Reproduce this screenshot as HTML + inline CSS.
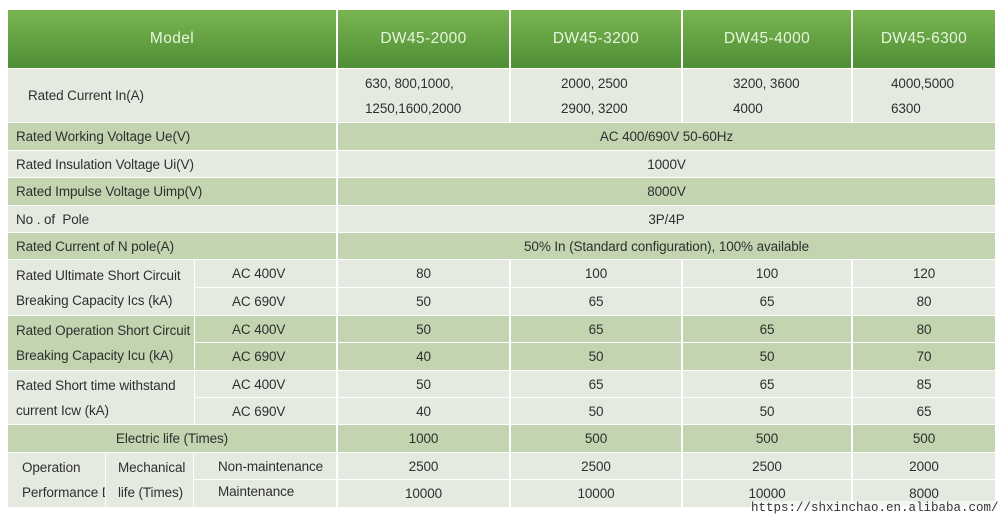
<!DOCTYPE html>
<html><head><meta charset="utf-8"><style>
body{margin:0;width:1000px;height:518px;background:#fff;overflow:hidden;font-family:"Liberation Sans","DejaVu Sans",sans-serif;}
.c{position:absolute;box-sizing:border-box;font-size:13.5px;color:#2f2f2f;display:flex;align-items:center;white-space:nowrap;letter-spacing:-0.1px}
.L{background:#e5eae1}.G{background:#c2d5b0}
.H{background:linear-gradient(#79b552,#4f8f35);color:#e8f5dc;font-size:15.5px;justify-content:center;letter-spacing:0.4px}
.ctr{justify-content:center}
.lt{padding-left:8px}
.two{flex-direction:column;align-items:flex-start;justify-content:center;line-height:25px}
</style></head><body>
<div class="c H" style="left:8px;top:10px;width:328px;height:58px">Model</div>
<div class="c H" style="left:338px;top:10px;width:171px;height:58px">DW45-2000</div>
<div class="c H" style="left:511px;top:10px;width:170px;height:58px">DW45-3200</div>
<div class="c H" style="left:683px;top:10px;width:168px;height:58px">DW45-4000</div>
<div class="c H" style="left:853px;top:10px;width:142px;height:58px">DW45-6300</div>
<div class="c L" style="left:8px;top:69px;width:328px;height:53px;padding-left:20px">Rated Current In(A)</div>
<div class="c L two" style="left:338px;top:69px;width:171px;height:53px;padding-left:27px"><span>630, 800,1000,</span><span>1250,1600,2000</span></div>
<div class="c L two" style="left:511px;top:69px;width:170px;height:53px;padding-left:50px"><span>2000, 2500</span><span>2900, 3200</span></div>
<div class="c L two" style="left:683px;top:69px;width:168px;height:53px;padding-left:50px"><span>3200, 3600</span><span>4000</span></div>
<div class="c L two" style="left:853px;top:69px;width:142px;height:53px;padding-left:38px"><span>4000,5000</span><span>6300</span></div>
<div class="c G lt" style="left:8px;top:123px;width:328px;height:27px">Rated Working Voltage Ue(V)</div>
<div class="c G ctr" style="left:338px;top:123px;width:657px;height:27px">AC 400/690V 50-60Hz</div>
<div class="c L lt" style="left:8px;top:151px;width:328px;height:26px">Rated Insulation Voltage Ui(V)</div>
<div class="c L ctr" style="left:338px;top:151px;width:657px;height:26px">1000V</div>
<div class="c G lt" style="left:8px;top:178px;width:328px;height:27px">Rated Impulse Voltage Uimp(V)</div>
<div class="c G ctr" style="left:338px;top:178px;width:657px;height:27px">8000V</div>
<div class="c L lt" style="left:8px;top:206px;width:328px;height:26px">No . of &nbsp;Pole</div>
<div class="c L ctr" style="left:338px;top:206px;width:657px;height:26px">3P/4P</div>
<div class="c G lt" style="left:8px;top:233px;width:328px;height:26px">Rated Current of N pole(A)</div>
<div class="c G ctr" style="left:338px;top:233px;width:657px;height:26px">50% In (Standard configuration), 100% available</div>
<div class="c L two lt" style="left:8px;top:260px;width:186px;height:55px"><span>Rated Ultimate Short Circuit</span><span>Breaking Capacity Ics (kA)</span></div>
<div class="c G two lt" style="left:8px;top:316px;width:186px;height:54px"><span>Rated Operation Short Circuit</span><span>Breaking Capacity Icu (kA)</span></div>
<div class="c L two lt" style="left:8px;top:371px;width:186px;height:53px"><span>Rated Short time withstand</span><span>current Icw (kA)</span></div>
<div class="c L" style="left:195px;top:260px;width:141px;height:27px;padding-left:37px">AC 400V</div>
<div class="c L" style="left:195px;top:288px;width:141px;height:27px;padding-left:37px">AC 690V</div>
<div class="c G" style="left:195px;top:316px;width:141px;height:26px;padding-left:37px">AC 400V</div>
<div class="c G" style="left:195px;top:343px;width:141px;height:27px;padding-left:37px">AC 690V</div>
<div class="c L" style="left:195px;top:371px;width:141px;height:26px;padding-left:37px">AC 400V</div>
<div class="c L" style="left:195px;top:398px;width:141px;height:26px;padding-left:37px">AC 690V</div>
<div class="c L ctr" style="left:338px;top:260px;width:171px;height:27px">80</div>
<div class="c L ctr" style="left:511px;top:260px;width:170px;height:27px">100</div>
<div class="c L ctr" style="left:683px;top:260px;width:168px;height:27px">100</div>
<div class="c L ctr" style="left:853px;top:260px;width:142px;height:27px">120</div>
<div class="c L ctr" style="left:338px;top:288px;width:171px;height:27px">50</div>
<div class="c L ctr" style="left:511px;top:288px;width:170px;height:27px">65</div>
<div class="c L ctr" style="left:683px;top:288px;width:168px;height:27px">65</div>
<div class="c L ctr" style="left:853px;top:288px;width:142px;height:27px">80</div>
<div class="c G ctr" style="left:338px;top:316px;width:171px;height:26px">50</div>
<div class="c G ctr" style="left:511px;top:316px;width:170px;height:26px">65</div>
<div class="c G ctr" style="left:683px;top:316px;width:168px;height:26px">65</div>
<div class="c G ctr" style="left:853px;top:316px;width:142px;height:26px">80</div>
<div class="c G ctr" style="left:338px;top:343px;width:171px;height:27px">40</div>
<div class="c G ctr" style="left:511px;top:343px;width:170px;height:27px">50</div>
<div class="c G ctr" style="left:683px;top:343px;width:168px;height:27px">50</div>
<div class="c G ctr" style="left:853px;top:343px;width:142px;height:27px">70</div>
<div class="c L ctr" style="left:338px;top:371px;width:171px;height:26px">50</div>
<div class="c L ctr" style="left:511px;top:371px;width:170px;height:26px">65</div>
<div class="c L ctr" style="left:683px;top:371px;width:168px;height:26px">65</div>
<div class="c L ctr" style="left:853px;top:371px;width:142px;height:26px">85</div>
<div class="c L ctr" style="left:338px;top:398px;width:171px;height:26px">40</div>
<div class="c L ctr" style="left:511px;top:398px;width:170px;height:26px">50</div>
<div class="c L ctr" style="left:683px;top:398px;width:168px;height:26px">50</div>
<div class="c L ctr" style="left:853px;top:398px;width:142px;height:26px">65</div>
<div class="c G ctr" style="left:8px;top:425px;width:328px;height:27px">Electric life (Times)</div>
<div class="c G ctr" style="left:338px;top:425px;width:171px;height:27px">1000</div>
<div class="c G ctr" style="left:511px;top:425px;width:170px;height:27px">500</div>
<div class="c G ctr" style="left:683px;top:425px;width:168px;height:27px">500</div>
<div class="c G ctr" style="left:853px;top:425px;width:142px;height:27px">500</div>
<div class="c L two" style="left:8px;top:453px;width:97px;height:54px;padding-left:14px;overflow:hidden"><span>Operation</span><span>Performance D</span></div>
<div class="c L two" style="left:106px;top:453px;width:87px;height:54px;padding-left:12px"><span>Mechanical</span><span>life (Times)</span></div>
<div class="c L" style="left:194px;top:453px;width:142px;height:26px;padding-left:24px">Non-maintenance</div>
<div class="c L" style="left:194px;top:480px;width:142px;height:27px;padding-left:24px;padding-bottom:4px">Maintenance</div>
<div class="c L ctr" style="left:338px;top:453px;width:171px;height:26px">2500</div>
<div class="c L ctr" style="left:511px;top:453px;width:170px;height:26px">2500</div>
<div class="c L ctr" style="left:683px;top:453px;width:168px;height:26px">2500</div>
<div class="c L ctr" style="left:853px;top:453px;width:142px;height:26px">2000</div>
<div class="c L ctr" style="left:338px;top:480px;width:171px;height:27px">10000</div>
<div class="c L ctr" style="left:511px;top:480px;width:170px;height:27px">10000</div>
<div class="c L ctr" style="left:683px;top:480px;width:168px;height:27px">10000</div>
<div class="c L ctr" style="left:853px;top:480px;width:142px;height:27px">8000</div>
<div style="position:absolute;left:751px;top:501px;font-family:'Liberation Mono',monospace;font-size:12.5px;color:#333;background:rgba(255,255,255,0.6)">https://shxinchao.en.alibaba.com/</div>
</body></html>
